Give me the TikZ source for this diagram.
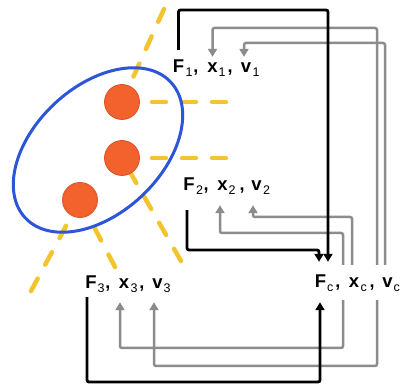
\documentclass[tikz,border=0pt]{standalone}
\usepackage{fontspec}
\setmainfont{Liberation Sans}
\usetikzlibrary{arrows.meta,shapes.geometric}
\definecolor{ylw}{RGB}{242,196,46}
\definecolor{blu}{RGB}{45,85,215}
\definecolor{org}{RGB}{243,98,45}
\definecolor{orgd}{RGB}{205,75,35}
\definecolor{gryc}{RGB}{140,140,140}
\begin{document}
\begin{tikzpicture}[x=1pt,y=-1pt,
  letter/.style={inner sep=0pt, anchor=base, text height=13pt, text depth=0pt, font=\fontsize{18.5}{18.5}\selectfont\bfseries},
  subscr/.style={inner sep=0pt, anchor=base west, font=\fontsize{12.5}{12.5}\selectfont},
  comma/.style={inner sep=0pt, anchor=base, font=\fontsize{18}{18}\selectfont\bfseries},
  blk/.style={line width=2.8pt, black, rounded corners=2pt, -{Triangle[length=8pt,width=9pt]}},
  gryline/.style={line width=2.5pt, gryc, rounded corners=2pt, -{Triangle[length=8pt,width=9pt]}},
  ydash/.style={line width=4.5pt, ylw, dash pattern=on 14pt off 16pt, line cap=round},
  ball/.style={circle, fill=org, draw=orgd!70!org, line width=0.8pt, minimum size=35pt, inner sep=0pt},
  ring/.style={draw=blu, line width=3pt, ellipse, inner sep=0pt},
]
\fill[white] (0,0) rectangle (400,385);
\useasboundingbox (0,0) rectangle (400,385);

% ball positions
\coordinate (c1) at (122,102);
\coordinate (c2) at (122,158);
\coordinate (c3) at (80,200);

% yellow dashed lines
\draw[ydash] (164,9) -- (c1);
\draw[ydash] (152,102) -- (232,102);
\draw[ydash] (152,158) -- (234,158);
\draw[ydash] (181,261) -- (c2);
\draw[ydash] (31,291) -- (c3);
\draw[ydash] (115,267) -- (c3);

% ellipse
\node[ring, rotate=43, minimum width=199pt, minimum height=127pt] (ell) at (98,150) {};

% balls
\node[ball] (b1) at (c1) {};
\node[ball] (b2) at (c2) {};
\node[ball] (b3) at (c3) {};

% row 1
\node[letter] (F1) at (178.5,73) {F};
\node[subscr] (F1s) at (185.5,77) {1};
\node[comma] (k11) at (196,73) {,};
\node[letter] (x1) at (212.5,73) {x};
\node[subscr] (x1s) at (218.5,77) {1};
\node[comma] (k12) at (230,73) {,};
\node[letter] (v1) at (246,73) {v};
\node[subscr] (v1s) at (252.5,77) {1};

% row 2
\node[letter] (F2) at (189,191) {F};
\node[subscr] (F2s) at (196,195) {2};
\node[comma] (k21) at (206,191) {,};
\node[letter] (x2) at (222.5,191) {x};
\node[subscr] (x2s) at (228.5,195) {2};
\node[comma] (k22) at (242,191) {,};
\node[letter] (v2) at (256.5,191) {v};
\node[subscr] (v2s) at (263,195) {2};

% row 3
\node[letter] (F3) at (91,289) {F};
\node[subscr] (F3s) at (97.5,293) {3};
\node[comma] (k31) at (108,289) {,};
\node[letter] (x3) at (124,289) {x};
\node[subscr] (x3s) at (130.5,293) {3};
\node[comma] (k32) at (142,289) {,};
\node[letter] (v3) at (157.5,289) {v};
\node[subscr] (v3s) at (163.5,293) {3};

% row c
\node[letter] (Fc) at (320.5,288) {F};
\node[subscr] (Fcs) at (327,292) {c};
\node[comma] (kc1) at (338,288) {,};
\node[letter] (xc) at (354,288) {x};
\node[subscr] (xcs) at (360.5,292) {c};
\node[comma] (kc2) at (372,288) {,};
\node[letter] (vc) at (387.5,288) {v};
\node[subscr] (vcs) at (393.5,292) {c};

% gray connectors
\draw[gryline, shorten <=10pt, shorten >=3pt] ([xshift=-10.5pt]vc.north) -- (377,28) -- (212.5,28) -- (x1.north);
\draw[gryline, shorten <=10pt, shorten >=3pt] ([xshift=-2.5pt]vc.north) -- (385,43) -- (244,43) -- ([xshift=-2pt]v1.north);
\draw[gryline, shorten <=10pt, shorten >=14pt] ([xshift=-11pt]xc.north) -- (343,233) -- (220,233) -- ([xshift=-2.5pt]x2.south);
\draw[gryline, shorten <=10pt, shorten >=14pt] ([xshift=-2pt]xc.north) -- (352,217) -- (253,217) -- ([xshift=-3.5pt]v2.south);
\draw[gryline, shorten <=12pt, shorten >=13pt] ([xshift=-11pt]xc.south) -- (343,348) -- (120,348) -- ([xshift=-4pt]x3.south);
\draw[gryline, shorten <=12pt, shorten >=13pt] ([xshift=-10.5pt]vc.south) -- (377,366) -- (154,366) -- ([xshift=-3.5pt]v3.south);

% black connectors
\draw[blk, shorten <=10pt, shorten >=13pt] (F1.north) -- (178.5,10) -- (328,10) -- ([xshift=7.5pt]Fc.north);
\draw[blk, shorten <=19pt, shorten >=13pt] ([xshift=-2pt]F2.south) -- (187,250) -- (319,250) -- ([xshift=-1.5pt]Fc.north);
\draw[blk, shorten <=8pt, shorten >=14pt] ([xshift=-4pt]F3.south) -- (87,382) -- (320,382) -- ([xshift=-0.5pt]Fc.south);
\end{tikzpicture}
\end{document}
